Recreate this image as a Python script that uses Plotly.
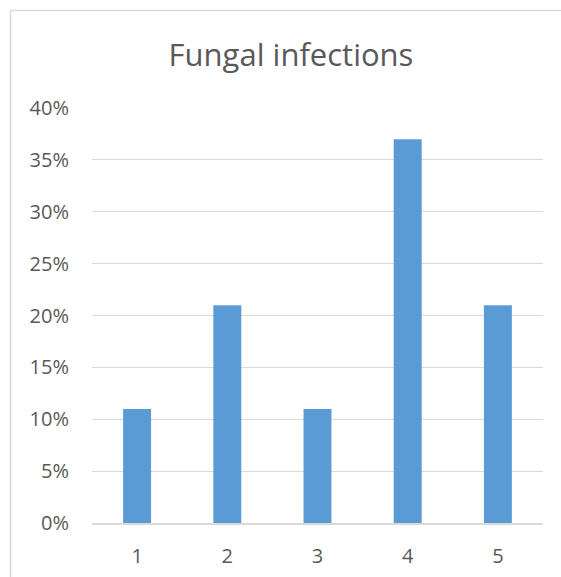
import plotly.graph_objects as go

categories = ["1", "2", "3", "4", "5"]
shares = [0.11, 0.21, 0.11, 0.37, 0.21]
tick_values = [0, 0.05, 0.10, 0.15, 0.20, 0.25, 0.30, 0.35, 0.40]
tick_labels = ["0%", "5%", "10%", "15%", "20%", "25%", "30%", "35%", "40%"]

text_color = "#595959"
font_family = "Open Sans, sans-serif"
border_color = "#D9D9D9"

W, H = 561, 577
M_L, M_R, M_T, M_B = 92, 18, 108, 54
PLOT_W, PLOT_H = W - M_L - M_R, H - M_T - M_B


def px_x(px):
    return (px - M_L) / PLOT_W


def px_y(px_from_top):
    return (H - M_B - px_from_top) / PLOT_H


fig = go.Figure(
    go.Bar(
        x=categories,
        y=shares,
        marker=dict(color="#5B9BD5", line=dict(width=0)),
        width=0.31,
    )
)

# chart-area frame: only its left and top edges fall inside the page
frame = [
    dict(type="line", xref="paper", yref="paper",
         x0=px_x(10.5), x1=px_x(10.5), y0=px_y(H), y1=px_y(10.5),
         line=dict(color=border_color, width=1.5), layer="below"),
    dict(type="line", xref="paper", yref="paper",
         x0=px_x(10.5), x1=px_x(W), y0=px_y(10.5), y1=px_y(10.5),
         line=dict(color=border_color, width=1.5), layer="below"),
]

fig.update_layout(
    width=W,
    height=H,
    margin=dict(l=M_L, r=M_R, t=M_T, b=M_B, autoexpand=False),
    paper_bgcolor="white",
    plot_bgcolor="white",
    showlegend=False,
    title=dict(
        text="Fungal infections",
        font=dict(family=font_family, size=31, color=text_color),
        x=291 / W,
        xanchor="center",
        y=1 - 55 / H,
        yanchor="middle",
        xref="container",
        yref="container",
    ),
    xaxis=dict(
        type="category",
        automargin=False,
        showgrid=False,
        showline=True,
        linecolor=border_color,
        linewidth=1.5,
        ticks="",
        tickfont=dict(family=font_family, size=20, color=text_color),
        ticklabelstandoff=14,
    ),
    yaxis=dict(
        range=[0, 0.4],
        automargin=False,
        tickvals=tick_values,
        ticktext=tick_labels,
        showgrid=True,
        gridcolor=border_color,
        gridwidth=1.2,
        zeroline=False,
        showline=False,
        ticks="",
        tickfont=dict(family=font_family, size=20, color=text_color),
        ticklabelstandoff=22,
    ),
    shapes=frame,
)

# keep the page itself from scrolling so no scrollbar is painted
no_scroll = (
    "document.documentElement.style.overflow='hidden';"
    "document.body.style.overflow='hidden';"
    "document.body.style.margin='0';"
)

fig.write_html("out.html", config={"displayModeBar": False}, post_script=no_scroll)
